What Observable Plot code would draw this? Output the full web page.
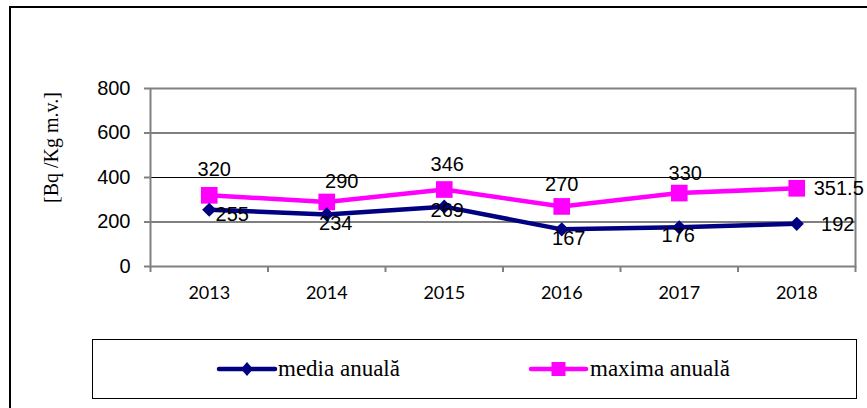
<!DOCTYPE html>
<html>
<head>
<meta charset="utf-8">
<script src="https://cdn.jsdelivr.net/npm/d3@7"></script>
<script src="https://cdn.jsdelivr.net/npm/@observablehq/plot@0.6"></script>
<style>
  html, body { margin: 0; padding: 0; background: #fff; width: 867px; height: 408px; overflow: hidden; }
  #wrap { position: relative; width: 867px; height: 408px; }
  #frame { position: absolute; left: 9px; top: 6px; width: 900px; height: 500px; border: 2px solid #000; box-sizing: border-box; }
  #chart { position: absolute; left: 0; top: 0; }
  #legend { position: absolute; left: 92px; top: 339px; }
</style>
</head>
<body>
<div id="wrap">
  <div id="frame"></div>
  <div id="chart"></div>
  <svg id="legend" width="766" height="61"></svg>
</div>
<script>
// ---- data ----
const years = ["2013", "2014", "2015", "2016", "2017", "2018"];
const media = [255, 234, 269, 167, 176, 192];
const maxima = [320, 290, 346, 270, 330, 351.5];
const yTicks = [0, 200, 400, 600, 800];
const seriesNames = ["media anuală", "maxima anuală"];
const yLabel = "[Bq /Kg m.v.]";

// ---- styling (label offsets in px, as placed in the original) ----
const mediaLabelOffsets = [[23, 5], [9, 9], [3, 4], [7, 9], [-1, 8], [41, 1]];
const maximaLabelOffsets = [[5, -26], [15, -20], [3, -25], [0, -22], [6, -19], [42, 0]];
const navy = "#000080", magenta = "#FF00FF", gray = "#808080";

const idx = years.map((_, i) => i);
const xPos = i => i + 0.5;

const labelMarks = [];
idx.forEach(i => {
  labelMarks.push(Plot.text([i], {x: xPos, y: d => maxima[d], text: d => String(maxima[d]),
    dx: maximaLabelOffsets[i][0], dy: maximaLabelOffsets[i][1], fontSize: 20, fill: "#000"}));
  labelMarks.push(Plot.text([i], {x: xPos, y: d => media[d], text: d => String(media[d]),
    dx: mediaLabelOffsets[i][0], dy: mediaLabelOffsets[i][1], fontSize: 20, fill: "#000"}));
});

const chart = Plot.plot({
  width: 867,
  height: 408,
  marginLeft: 150,
  marginRight: 12,
  marginTop: 88,
  marginBottom: 142,
  style: {fontFamily: "'Liberation Sans', Arial, sans-serif", background: "transparent", overflow: "visible"},
  x: {domain: [0, years.length], axis: null},
  y: {domain: [0, 800], axis: null},
  marks: [
    Plot.gridY(yTicks.slice(1, -1), {stroke: "#000", strokeOpacity: 1, strokeWidth: 1}),
    Plot.frame({stroke: gray, strokeWidth: 2}),
    Plot.axisY(yTicks, {tickSize: 6, tickPadding: 14, fontSize: 20, stroke: gray, strokeWidth: 2, fill: "#000", label: null}),
    Plot.axisX(d3.range(years.length + 1), {tickSize: 6, tickFormat: () => "", stroke: gray, strokeWidth: 2, label: null}),
    Plot.axisX(idx.map(xPos), {tickSize: 0, tickPadding: 20, tickFormat: v => years[Math.round(v - 0.5)],
      fontSize: 18, fontFamily: "Lato, 'Open Sans', sans-serif", fill: "#000", label: null}),
    Plot.line(idx, {x: xPos, y: i => maxima[i], stroke: magenta, strokeWidth: 4.5}),
    Plot.dot(idx, {x: xPos, y: i => maxima[i], symbol: "square", r: 9.4, fill: magenta, stroke: "none"}),
    Plot.line(idx, {x: xPos, y: i => media[i], stroke: navy, strokeWidth: 4.5}),
    Plot.dot(idx, {x: xPos, y: i => media[i], symbol: "diamond2", r: 6.4, fill: navy, stroke: "none"}),
    ...labelMarks,
    Plot.text([yLabel], {frameAnchor: "left", textAnchor: "middle", rotate: -90, dx: -99, dy: -30,
      fontFamily: "'Liberation Serif', 'Times New Roman', serif", fontSize: 20, fill: "#000"})
  ]
});
document.getElementById("chart").appendChild(chart);

// ---- legend ----
const lg = d3.select("#legend");
lg.append("rect").attr("x", 0.5).attr("y", 0.5).attr("width", 764).attr("height", 59)
  .attr("fill", "none").attr("stroke", "#000").attr("stroke-width", 1);
const items = [
  {name: seriesNames[0], color: navy, x0: 127, x1: 183, tx: 186, sym: "diamond"},
  {name: seriesNames[1], color: magenta, x0: 439, x1: 494, tx: 498, sym: "square"}
];
items.forEach(it => {
  lg.append("line").attr("x1", it.x0).attr("x2", it.x1).attr("y1", 30).attr("y2", 30)
    .attr("stroke", it.color).attr("stroke-width", 4.5).attr("stroke-linecap", "round");
  const cx = (it.x0 + it.x1) / 2;
  if (it.sym === "diamond") {
    lg.append("path").attr("d", `M${cx},${23} L${cx + 6},${30} L${cx},${37} L${cx - 6},${30} Z`).attr("fill", it.color);
  } else {
    lg.append("rect").attr("x", cx - 7).attr("y", 23).attr("width", 14).attr("height", 14).attr("fill", it.color);
  }
  lg.append("text").attr("x", it.tx).attr("y", 37).text(it.name)
    .attr("font-family", "'Liberation Serif', 'Times New Roman', serif").attr("font-size", 23).attr("fill", "#000");
});
</script>
</body>
</html>
